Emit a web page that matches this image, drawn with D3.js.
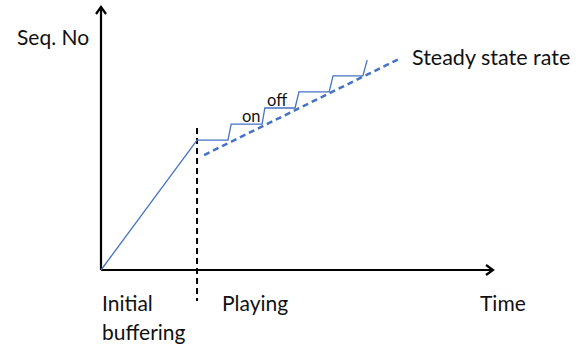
<!DOCTYPE html>
<html>
<head>
<meta charset="utf-8">
<script src="https://cdn.jsdelivr.net/npm/d3@7"></script>
<style>
  body { margin: 0; background: #fff; }
  text { font-family: Lato, "Open Sans", sans-serif; fill: #111; }
</style>
</head>
<body>
<div id="chart"></div>
<script>
// data in abstract units (time 0..100, seq 0..100)
const bufferTime = [0, 24.5, 32.4, 33.2, 41.1, 41.8, 49.5, 50.5, 58.2, 59.2, 66.8, 67.9];
const bufferSeq  = [0, 49.4, 49.4, 55.5, 55.5, 61.6, 61.6, 67.7, 67.7, 73.8, 73.8, 79.8];
const rateTime = [26.3, 76.5];
const rateSeq  = [43.7, 80.6];
const playStart = 24.5;
const playSeq = [54.0, -11.8];

const width = 585;
const height = 349;

const x = d3.scaleLinear().domain([0, 100]).range([101, 493]);
const y = d3.scaleLinear().domain([0, 100]).range([270, 7]);

const svg = d3.select('#chart')
    .append('svg')
    .attr('width', width)
    .attr('height', height);

// open chevron arrow head
svg.append('defs')
    .append('marker')
    .attr('id', 'arrow')
    .attr('viewBox', '0 0 12 12')
    .attr('refX', 10)
    .attr('refY', 6)
    .attr('markerWidth', 12)
    .attr('markerHeight', 12)
    .attr('markerUnits', 'userSpaceOnUse')
    .attr('orient', 'auto')
    .append('path')
    .attr('d', 'M3,1 L10,6 L3,11')
    .attr('fill', 'none')
    .attr('stroke', '#000')
    .attr('stroke-width', 2.2);

// axes
svg.append('line')
    .attr('x1', x(0)).attr('y1', y(0))
    .attr('x2', x(0)).attr('y2', y(100))
    .attr('stroke', '#000')
    .attr('stroke-width', 2.2)
    .attr('marker-end', 'url(#arrow)');

svg.append('line')
    .attr('x1', x(0)).attr('y1', y(0))
    .attr('x2', x(100)).attr('y2', y(0))
    .attr('stroke', '#000')
    .attr('stroke-width', 2.2)
    .attr('marker-end', 'url(#arrow)');

// playing start marker
svg.append('line')
    .attr('x1', x(playStart)).attr('y1', y(playSeq[0]))
    .attr('x2', x(playStart)).attr('y2', y(playSeq[1]))
    .attr('stroke', '#000')
    .attr('stroke-width', 2)
    .attr('stroke-dasharray', '6,4');

// steady state rate
const rateData = rateTime.map((t, i) => [t, rateSeq[i]]);
svg.append('path')
    .datum(rateData)
    .attr('d', d3.line().x(d => x(d[0])).y(d => y(d[1])))
    .attr('fill', 'none')
    .attr('stroke', '#4472C4')
    .attr('stroke-width', 2.5)
    .attr('stroke-dasharray', '6,4');

// buffered sequence numbers
const bufferData = bufferTime.map((t, i) => [t, bufferSeq[i]]);
svg.append('path')
    .datum(bufferData)
    .attr('d', d3.line().x(d => x(d[0])).y(d => y(d[1])))
    .attr('fill', 'none')
    .attr('stroke', '#4472C4')
    .attr('stroke-width', 1.3);

// labels
const labels = [
    { text: 'Seq. No', x: 17, y: 45, size: 21 },
    { text: 'Steady state rate', x: 412, y: 65, size: 21.5 },
    { text: 'on', x: 242, y: 122, size: 16.5 },
    { text: 'off', x: 267, y: 106, size: 16.5 },
    { text: 'Initial', x: 102, y: 311, size: 21 },
    { text: 'buffering', x: 102, y: 340, size: 21 },
    { text: 'Playing', x: 222, y: 311, size: 21 },
    { text: 'Time', x: 480, y: 311, size: 21 },
];

svg.selectAll('.label')
    .data(labels)
    .enter()
    .append('text')
    .attr('class', 'label')
    .attr('x', d => d.x)
    .attr('y', d => d.y)
    .style('font-size', d => d.size + 'px')
    .text(d => d.text);
</script>
</body>
</html>
